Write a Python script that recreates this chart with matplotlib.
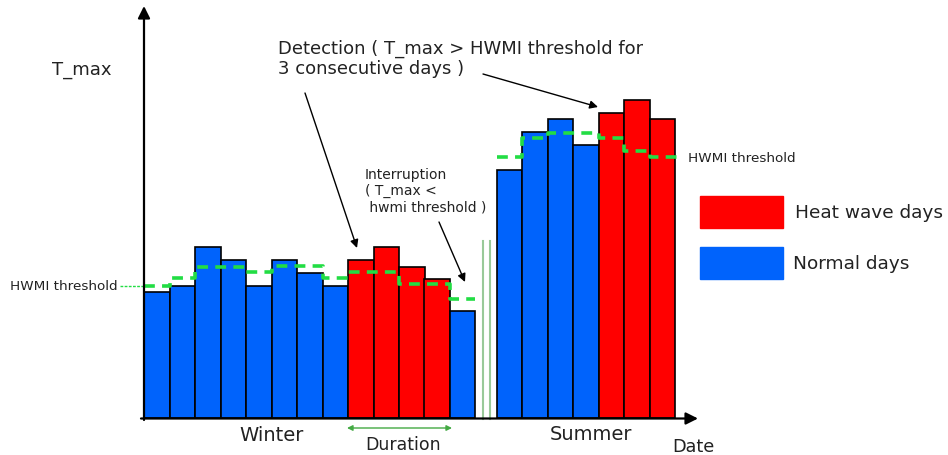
import numpy as np
import matplotlib
matplotlib.use("Agg")
import matplotlib.pyplot as plt
from matplotlib.patches import Rectangle

# T_max per day (arbitrary units) and the HWMI threshold
winter_days = [0, 1, 2, 3, 4, 5, 6, 7, 8, 9, 10, 11, 12]
winter_tmax = [126, 132, 171, 158, 132, 158, 145, 132, 158, 171, 151, 139, 107]
winter_thr = [132, 140, 151, 151, 146, 152, 152, 140, 146, 146, 134, 134, 119]
winter_heat = [0, 0, 0, 0, 0, 0, 0, 0, 1, 1, 1, 1, 0]

summer_days = [13.84, 14.84, 15.84, 16.84, 17.84, 18.84, 19.84]
summer_tmax = [248, 286, 299, 273, 305, 318, 299]
summer_thr = [261, 280, 285, 285, 280, 267, 261]
summer_heat = [0, 0, 0, 0, 1, 1, 1]

rojo = '#ff0000'
azul = '#0063fc'
verde = '#22dd44'
texto = '#222222'

W, H = 948, 456
fig = plt.figure(figsize=(W / 100, H / 100), dpi=100)
ax = fig.add_axes([0, 0, 1, 1])
ax.set_xlim(-144 / 25.5, (W - 144) / 25.5)
ax.set_ylim(-(H - 419), 419)
ax.axis('off')


def P(x, y):
    # pixel position -> axes fraction
    return (x / W, 1 - y / H)


# bars
for dias, tmax, heat in [(winter_days, winter_tmax, winter_heat),
                         (summer_days, summer_tmax, summer_heat)]:
    colores = [rojo if h else azul for h in heat]
    ax.bar(dias, tmax, width=1, align='edge', color=colores,
           edgecolor='black', linewidth=1.2, zorder=2)

# threshold steps
xw = winter_days + [winter_days[-1] + 1]
yw = winter_thr + [winter_thr[-1]]
ax.step(xw, yw, where='post', color=verde, lw=2.6, ls=(0, (3, 2)), zorder=3)
xs = summer_days + [summer_days[-1] + 1.2]
ys = summer_thr + [summer_thr[-1]]
ax.step(xs, ys, where='post', color=verde, lw=2.6, ls=(0, (3, 2)), zorder=3)
# thin leader to the left label
ax.plot([-0.94, 0], [winter_thr[0], winter_thr[0]], color=verde, lw=1,
        ls=(0, (2, 1)), zorder=3)

# break marks
for xb in [483, 490]:
    ax.plot([xb / W, xb / W], [1 - 420 / H, 1 - 242 / H], color='#99c999',
            lw=1.5, transform=ax.transAxes, zorder=1)

# axes with arrows
flecha = dict(arrowstyle='-|>', color='black', lw=1.6, mutation_scale=18,
              shrinkA=0, shrinkB=0)
ax.annotate('', xy=P(144, 7), xytext=P(144, 421), xycoords='axes fraction',
            textcoords='axes fraction', arrowprops=flecha, zorder=4)
ax.annotate('', xy=P(698, 419.5), xytext=P(141, 419.5), xycoords='axes fraction',
            textcoords='axes fraction', arrowprops=flecha, zorder=4)

# annotations
fina = dict(arrowstyle='-|>', color='black', lw=1, mutation_scale=12,
            shrinkA=0, shrinkB=0)
ax.annotate('', xy=P(357, 249), xytext=P(305, 94), xycoords='axes fraction',
            textcoords='axes fraction', arrowprops=fina)
ax.annotate('', xy=P(598, 108), xytext=P(483, 75), xycoords='axes fraction',
            textcoords='axes fraction', arrowprops=fina)
ax.annotate('', xy=P(465, 283), xytext=P(439, 223), xycoords='axes fraction',
            textcoords='axes fraction', arrowprops=fina)

ax.text(*P(278, 59), 'Detection ( T_max > HWMI threshold for\n3 consecutive days )',
        transform=ax.transAxes, fontsize=13, color=texto, va='center',
        linespacing=1.15)
ax.text(*P(365, 191), 'Interruption\n( T_max <\n hwmi threshold )',
        transform=ax.transAxes, fontsize=10, color=texto, va='center',
        linespacing=1.2)
ax.text(*P(52, 70), 'T_max', transform=ax.transAxes, fontsize=13,
        color=texto, va='center')
ax.text(*P(10, 287), 'HWMI threshold', transform=ax.transAxes, fontsize=9.7,
        color=texto, va='center')
ax.text(*P(688, 158), 'HWMI threshold', transform=ax.transAxes, fontsize=9.7,
        color=texto, va='center')
ax.text(*P(272, 436), 'Winter', transform=ax.transAxes, fontsize=14,
        color=texto, va='center', ha='center')
ax.text(*P(591, 435), 'Summer', transform=ax.transAxes, fontsize=14,
        color=texto, va='center', ha='center')
ax.text(*P(403, 445), 'Duration', transform=ax.transAxes, fontsize=12.5,
        color=texto, va='center', ha='center')
ax.text(*P(672, 447), 'Date', transform=ax.transAxes, fontsize=12.7,
        color=texto, va='center')

# duration arrow
ax.annotate('', xy=P(452, 429), xytext=P(347, 429), xycoords='axes fraction',
            textcoords='axes fraction',
            arrowprops=dict(arrowstyle='<|-|>', color='#44aa44', lw=1,
                            mutation_scale=8, shrinkA=0, shrinkB=0))

# legend boxes
ax.add_patch(Rectangle(P(700, 229), 83 / W, 32 / H, transform=ax.transAxes,
                       color=rojo))
ax.add_patch(Rectangle(P(700, 280), 83 / W, 32 / H, transform=ax.transAxes,
                       color=azul))
ax.text(*P(795, 213), 'Heat wave days', transform=ax.transAxes, fontsize=13.3,
        color=texto, va='center')
ax.text(*P(793, 264), 'Normal days', transform=ax.transAxes, fontsize=13.3,
        color=texto, va='center')

plt.savefig('out.png', dpi=100)
